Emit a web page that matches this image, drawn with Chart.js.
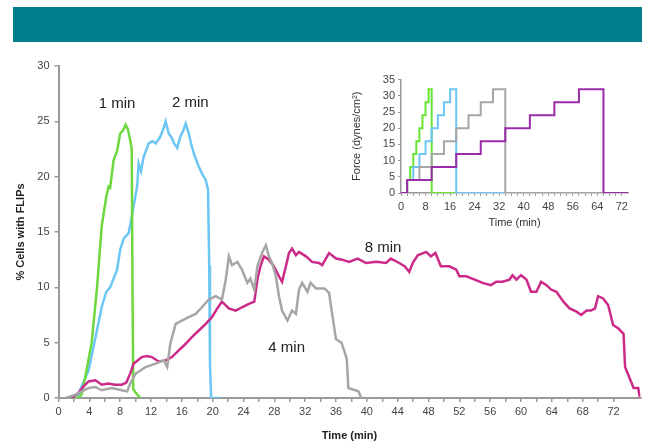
<!DOCTYPE html>
<html>
<head>
<meta charset="utf-8">
<script src="https://cdn.jsdelivr.net/npm/chart.js@4"></script>
<style>
  html, body { margin:0; padding:0; background:#fff; }
  body { width:645px; height:443px; position:relative; overflow:hidden; font-family:"Liberation Sans", Arial, sans-serif; }
  #band { position:absolute; left:13px; top:7px; width:629px; height:35px; background:#017c8a; }
  #mainWrap { position:absolute; left:0; top:0; width:645px; height:443px; }
  #insetWrap { position:absolute; left:345px; top:70px; width:290px; height:160px; }
</style>
</head>
<body>
<div id="band"></div>
<div id="mainWrap"><canvas id="main" width="645" height="443"></canvas></div>
<div id="insetWrap"><canvas id="inset" width="290" height="160"></canvas></div>
<script>
// ---- Main chart data: [time (min), % cells with FLIPs] ----
const series1min = [[1,0],[2.5,0],[3.0,0.3],[3.5,2],[4.3,5.0],[5.0,10],[5.6,15.5],[6.2,18.2],[6.5,19.1],[6.7,19.0],[7.15,21.5],[7.6,22.3],[8.0,23.9],[8.4,24.2],[8.7,24.7],[9.0,24.3],[9.3,23.3],[9.5,22.5],[9.6,10],[9.7,0.8],[10.0,0.5],[10.6,0]];
const series2min = [[1,0],[2.5,0],[2.8,0.7],[3.9,2.5],[4.8,5.5],[5.6,8.2],[6.2,9.6],[6.7,10],[7.6,11.6],[8.0,13.4],[8.45,14.4],[9.1,14.9],[9.5,16.4],[10.2,19.1],[10.4,21.2],[10.7,20.5],[11.05,21.8],[11.7,23.0],[12.2,23.2],[12.6,23.0],[13.2,23.6],[13.6,24.3],[13.9,25.0],[14.3,23.9],[14.7,23.5],[15.0,23.0],[15.4,22.6],[15.8,23.6],[16.2,24.2],[16.5,24.8],[16.9,23.9],[17.2,23.0],[17.55,22.1],[18.2,20.9],[18.6,20.3],[19.1,19.7],[19.4,18.8],[19.55,12],[19.65,3],[19.8,0],[21,0]];
const series4min = [[1,0],[2.2,0.3],[3.0,0.6],[3.9,0.9],[4.8,1.0],[5.6,0.7],[6.9,0.9],[8.2,0.7],[8.9,0.6],[9.3,1.3],[10.0,2.2],[11.3,2.8],[12.6,3.1],[13.65,3.4],[14.1,2.8],[14.5,4.9],[15.2,6.7],[16.0,7.0],[16.9,7.3],[17.8,7.6],[18.6,8.2],[19.5,8.9],[20.4,9.2],[21.2,8.9],[21.7,10.7],[22.1,12.8],[22.5,12.0],[23.2,12.3],[23.8,11.6],[24.5,10.4],[24.9,10.8],[25.4,9.8],[25.8,11.9],[26.4,13.1],[26.9,13.8],[27.3,12.8],[27.7,12.2],[28.2,11.0],[28.6,9.2],[29.0,7.9],[29.7,7.0],[30.3,7.9],[30.8,7.6],[31.2,9.8],[31.6,10.4],[32.3,9.6],[32.7,10.4],[33.4,9.9],[34.5,9.9],[35.1,9.5],[35.5,7.6],[36.0,5.3],[36.7,5.0],[37.1,4.2],[37.4,3.5],[37.6,0.9],[38.9,0.6],[39.3,0]];
const series8min = [[1,0],[1.7,0],[2.5,0.4],[3.2,1.0],[3.9,1.5],[4.8,1.6],[5.6,1.2],[6.5,1.3],[7.3,1.2],[8.2,1.2],[8.8,1.4],[9.3,2.2],[9.75,3.1],[10.8,3.7],[11.5,3.8],[12.1,3.7],[13.0,3.3],[13.9,3.4],[14.7,3.7],[15.6,4.3],[16.5,4.9],[17.3,5.5],[18.2,6.1],[19.1,6.7],[19.9,7.3],[20.6,8.1],[21.2,8.7],[22.1,8.1],[23.0,7.9],[23.8,8.2],[24.7,8.5],[25.4,8.7],[25.8,10.7],[26.2,11.9],[26.65,12.8],[27.3,12.5],[27.95,11.9],[28.6,11.0],[29.0,10.5],[29.5,11.9],[29.9,13.1],[30.3,13.5],[30.8,12.9],[31.2,13.2],[32.1,12.8],[32.9,12.3],[33.8,12.2],[34.2,12.0],[35.1,13.1],[36.0,12.6],[36.8,12.5],[37.7,12.3],[38.8,12.6],[39.9,12.2],[41.2,12.3],[42.5,12.2],[43.1,12.6],[44.2,12.2],[44.9,11.9],[45.5,11.4],[45.95,12.2],[46.6,12.9],[47.7,13.2],[48.3,12.8],[48.9,13.1],[49.6,11.9],[50.7,11.9],[51.6,11.6],[52.0,11.0],[52.9,11.0],[54.0,10.7],[55.0,10.4],[56.1,10.2],[56.8,10.5],[57.6,10.5],[58.5,10.7],[58.9,11.1],[59.4,10.7],[60.0,11.1],[60.7,10.7],[61.3,9.6],[62.0,9.6],[62.6,10.5],[63.3,10.2],[63.9,9.8],[64.6,9.6],[65.5,8.7],[66.3,8.1],[67.2,7.8],[67.8,7.5],[68.5,7.9],[69.1,7.9],[69.6,8.1],[70.0,9.2],[70.65,9.0],[71.3,8.4],[71.95,6.6],[72.6,6.3],[73.3,5.8],[73.5,2.8],[74.2,1.6],[74.6,0.9],[75.2,0.9],[75.4,0.1]];

// ---- Inset data: force steps [start time (min), force (dynes/cm2)] ----
const force1min = [[0,0],[2,4],[3,8],[4,12],[5,16],[6,20],[7,24],[8,28],[9,32],[10,0],[74,0]];
const force2min = [[0,0],[2,4],[4,8],[6,12],[8,16],[10,20],[12,24],[14,28],[16,32],[18,0],[74,0]];
const force4min = [[0,0],[2,4],[6,8],[10,12],[14,16],[18,20],[22,24],[26,28],[30,32],[34,0],[74,0]];
const force8min = [[0,0],[2,4],[10,8],[18,12],[26,16],[34,20],[42,24],[50,28],[58,32],[66,0],[74,0]];

// ---- Annotation labels: [text, time, value] ----
const seriesLabels = [['1 min', 7.6, 26.6], ['2 min', 17.1, 26.7], ['4 min', 29.6, 4.5], ['8 min', 42.1, 13.6]];

const COLORS = { g: '#6cd83e', b: '#6cc6f4', gr: '#a6a6a6', m: '#cc2a88', p: '#9b2ca8' };
const toXY = arr => arr.map(p => ({ x: p[0], y: p[1] }));
const FONT = '"Liberation Sans", Arial, sans-serif';

const labelPlugin = {
  id: 'seriesLabels',
  afterDatasetsDraw(chart) {
    const { ctx, scales } = chart;
    ctx.save();
    ctx.font = '15px ' + FONT;
    ctx.fillStyle = '#222';
    ctx.textAlign = 'center';
    ctx.textBaseline = 'middle';
    seriesLabels.forEach(l => {
      ctx.fillText(l[0], scales.x.getPixelForValue(l[1]), scales.y.getPixelForValue(l[2]));
    });
    ctx.restore();
  }
};

const lineDs = (data, color, w) => ({ data: toXY(data), borderColor: color, borderWidth: w, pointRadius: 0, tension: 0, fill: false });

new Chart(document.getElementById('main'), {
  type: 'line',
  data: { datasets: [
    lineDs(series4min, COLORS.gr, 2.5),
    lineDs(series8min, COLORS.m, 2.5),
    lineDs(series1min, COLORS.g, 2.5),
    lineDs(series2min, COLORS.b, 2.5)
  ]},
  options: {
    responsive: false, animation: false,
    layout: { padding: { top: 66, right: 4.5, left: 0, bottom: 0 } },
    plugins: { legend: { display: false }, tooltip: { enabled: false } },
    scales: {
      x: {
        type: 'linear', min: 0, max: 75.5,
        afterFit: s => { s.height = 45; },
        ticks: { stepSize: 2, autoSkip: false, maxRotation: 0, padding: 3, color: '#444', font: { family: FONT, size: 11 },
          callback: v => (v % 4 === 0 ? String(v) : '') },
        afterBuildTicks: s => { s.ticks = s.ticks.filter(t => t.value <= 74); },
        grid: { drawOnChartArea: false, drawTicks: true, tickLength: 4, color: '#9a9a9a', lineWidth: 1.5 },
        border: { color: '#9a9a9a', width: 2 },
        title: { display: true, text: 'Time (min)', color: '#222', font: { family: FONT, size: 11, weight: 'bold' }, padding: { top: 2, bottom: 0 } }
      },
      y: {
        min: 0, max: 30,
        afterFit: s => { s.width = 58.5; },
        ticks: { stepSize: 5, padding: 5, color: '#444', font: { family: FONT, size: 11 } },
        grid: { drawOnChartArea: false, drawTicks: true, tickLength: 4, color: '#9a9a9a', lineWidth: 1.5 },
        border: { color: '#9a9a9a', width: 2 },
        title: { display: true, text: '% Cells with FLIPs', color: '#222', font: { family: FONT, size: 11, weight: 'bold' }, padding: { top: 14, bottom: 0 } }
      }
    }
  },
  plugins: [labelPlugin]
});

const stepDs = (data, color) => ({ data: toXY(data), borderColor: color, borderWidth: 2, pointRadius: 0, stepped: true, fill: false });

new Chart(document.getElementById('inset'), {
  type: 'line',
  data: { datasets: [
    stepDs(force8min, COLORS.p),
    stepDs(force4min, COLORS.gr),
    stepDs(force2min, COLORS.b),
    stepDs(force1min, '#66e633')
  ]},
  options: {
    responsive: false, animation: false,
    layout: { padding: { top: 8, right: 7, left: 0, bottom: 0 } },
    plugins: { legend: { display: false }, tooltip: { enabled: false } },
    scales: {
      x: {
        type: 'linear', min: 0, max: 74,
        afterFit: s => { s.height = 37; },
        ticks: { stepSize: 2, autoSkip: false, maxRotation: 0, padding: 4, color: '#444', font: { family: FONT, size: 11 },
          callback: v => (v % 8 === 0 ? String(v) : '') },
        afterBuildTicks: s => { s.ticks = s.ticks.filter(t => t.value <= 72); },
        grid: { drawOnChartArea: false, drawTicks: true, tickLength: 3, color: '#9a9a9a', lineWidth: 1 },
        border: { color: '#9a9a9a', width: 1.5 },
        title: { display: true, text: 'Time (min)', color: '#333', font: { family: FONT, size: 11 }, padding: { top: 0, bottom: 0 } }
      },
      y: {
        min: 0, max: 35,
        afterFit: s => { s.width = 56; },
        ticks: { stepSize: 5, padding: 3, color: '#444', font: { family: FONT, size: 11 } },
        grid: { drawOnChartArea: false, drawTicks: true, tickLength: 3, color: '#9a9a9a', lineWidth: 1 },
        border: { color: '#9a9a9a', width: 1.5 },
        title: { display: true, text: 'Force (dynes/cm²)', color: '#333', font: { family: FONT, size: 11 }, padding: { top: 5, bottom: 0 } }
      }
    }
  }
});
</script>
</body>
</html>
